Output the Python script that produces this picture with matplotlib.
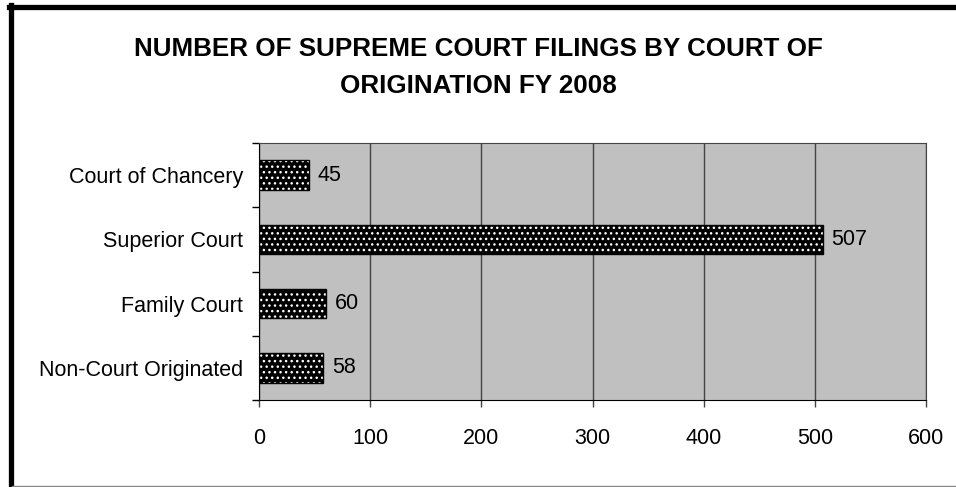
import matplotlib
matplotlib.use("Agg")
import matplotlib.pyplot as plt

categories = ["Court of Chancery", "Superior Court", "Family Court", "Non-Court Originated"]
values = [45, 507, 60, 58]
xticks = [0, 100, 200, 300, 400, 500, 600]
title = "NUMBER OF SUPREME COURT FILINGS BY COURT OF\nORIGINATION FY 2008"

plt.rcParams["font.family"] = ["Liberation Sans", "DejaVu Sans"]
plt.rcParams["hatch.linewidth"] = 1.0

W, H = 956, 487
fig = plt.figure(figsize=(W / 100, H / 100), dpi=100)
fig.patch.set_facecolor("white")

# figure frame
fig.add_artist(plt.Line2D([10.5 / W, 10.5 / W], [0, 1 - 5 / H], transform=fig.transFigure, color="black", lw=3.8))
fig.add_artist(plt.Line2D([8.6 / W, 1], [1 - 7 / H, 1 - 7 / H], transform=fig.transFigure, color="black", lw=3.8))
fig.add_artist(plt.Line2D([12 / W, 1], [1.5 / H, 1.5 / H], transform=fig.transFigure, color="#888888", lw=1))

left, right, top, bottom = 259, 926, 143, 400
ax = fig.add_axes([left / W, 1 - bottom / H, (right - left) / W, (bottom - top) / H])
ax.set_facecolor("#c0c0c0")

n = len(categories)
ypos = list(range(n))
ax.barh(ypos, values, height=0.46, color="black", edgecolor="white", hatch="...", linewidth=0, zorder=3)
ax.barh(ypos, values, height=0.46, fill=False, edgecolor="black", linewidth=1, zorder=4)
for y, v in zip(ypos, values):
    ax.text(v + 8, y, str(v), va="center", ha="left", fontsize=15.5, zorder=5)

ax.set_xlim(0, 600)
ax.set_ylim(n - 0.5, -0.5)
ax.set_xticks(xticks)
ax.set_xticklabels([str(t) for t in xticks], fontsize=15.5)
ax.set_yticks(ypos)
ax.set_yticklabels(categories, fontsize=15.5)
ax.tick_params(axis="y", length=0, pad=11.5)
ax.set_yticks([i + 0.5 for i in range(-1, n)], minor=True)
ax.tick_params(axis="y", which="minor", length=5, width=1, direction="out", color="black")
ax.tick_params(axis="x", length=5, width=1, direction="out", color="#444444", pad=15)
ax.grid(axis="x", color="#444444", lw=1, zorder=1)
for s in ["top", "right"]:
    ax.spines[s].set_color("#444444")
for s in ["left", "bottom"]:
    ax.spines[s].set_color("black")

fig.text(0.5, 1 - 67.5 / H, title, ha="center", va="center", fontsize=18.7, fontweight="bold",
         linespacing=1.72)

fig.savefig("out.png", dpi=100)
